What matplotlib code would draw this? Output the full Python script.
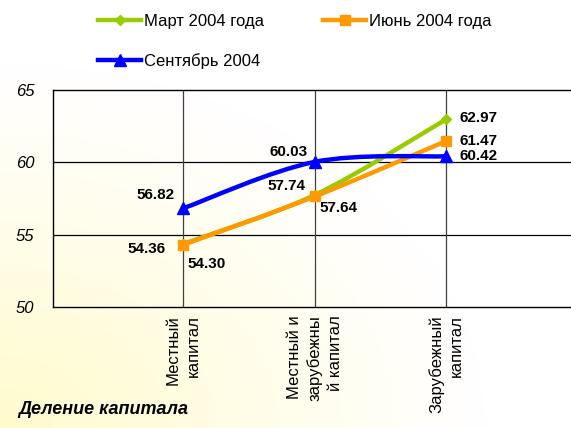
import numpy as np
import matplotlib
matplotlib.use("Agg")
import matplotlib.pyplot as plt
from matplotlib.path import Path
from matplotlib.patches import PathPatch
from matplotlib.lines import Line2D

plt.rcParams['font.family'] = ['Liberation Sans', 'DejaVu Sans']

categories = ["Местный\nкапитал", "Местный и\nзарубежны\nй капитал", "Зарубежный\nкапитал"]
mar_2004 = [54.36, 57.74, 62.97]
jun_2004 = [54.30, 57.64, 61.47]
sep_2004 = [56.82, 60.03, 60.42]
series_names = ["Март 2004 года", "Июнь 2004 года", "Сентябрь 2004"]
y_ticks = [50, 55, 60, 65]
x_title = "Деление капитала"

colors = ["#99CC00", "#FF9900", "#0000FF"]
markers = ["D", "s", "^"]
msizes = [5, 6.5, 9]

W, H = 571, 428
fig = plt.figure(figsize=(W / 100, H / 100), dpi=100)

# background gradient (radial from bottom-left corner)
bg = fig.add_axes([0, 0, 1, 1], zorder=-10)
gx, gy = np.meshgrid(np.linspace(0, 1, 300), np.linspace(0, 1, 300))
d = np.sqrt(gx ** 2 + (1 - gy) ** 2)
t = np.clip(1 - d / 0.85, 0, 1) ** 1.1
c0 = np.array([1.0, 1.0, 1.0])
c1 = np.array([1.0, 0.985, 0.80])
img = c0[None, None, :] * (1 - t[..., None]) + c1[None, None, :] * t[..., None]
bg.imshow(img, extent=[0, 1, 0, 1], aspect='auto', origin='upper')
bg.axis('off')

ax = fig.add_axes([53 / W, 1 - 307 / H, (571 - 53) / W, (307 - 90) / H])
ax.patch.set_alpha(0)
x = np.arange(len(categories))
ax.set_xlim(-0.99, 2.95)
ax.set_ylim(50, 65)


def smooth_path(xs, ys):
    pts = np.column_stack([xs, ys]).astype(float)
    n = len(pts)
    verts = [pts[0]]
    codes = [Path.MOVETO]
    for i in range(n - 1):
        p_prev = pts[i - 1] if i > 0 else pts[i]
        p_next2 = pts[i + 2] if i + 2 < n else pts[i + 1]
        c1 = pts[i] + (pts[i + 1] - p_prev) / 6
        c2 = pts[i + 1] - (p_next2 - pts[i]) / 6
        verts += [c1, c2, pts[i + 1]]
        codes += [Path.CURVE4] * 3
    return Path(verts, codes)


all_series = [mar_2004, jun_2004, sep_2004]
for k, (vals, col, mk, ms) in enumerate(zip(all_series, colors, markers, msizes)):
    patch = PathPatch(smooth_path(x, vals), facecolor='none', edgecolor=col,
                      lw=3.2, zorder=3 + k, capstyle='round', joinstyle='round')
    ax.add_patch(patch)
    ax.plot(x, vals, linestyle='none', marker=mk, color=col, ms=ms, zorder=3.5 + k)

# grid
for yv in [55, 60]:
    ax.axhline(yv, color='black', lw=0.9, zorder=1)
for xv in x:
    ax.axvline(xv, color='#404040', lw=0.9, zorder=1)

ax.set_yticks(y_ticks)
ax.set_yticklabels([str(v) for v in y_ticks], fontsize=12, fontstyle='italic')
ax.tick_params(axis='y', length=0, pad=13.5)
ax.set_xticks(x)
ax.set_xticklabels(categories, rotation=90, fontsize=12, va='top', ha='center',
                   multialignment='right', linespacing=1.4)
ax.tick_params(axis='x', length=0, pad=6)
for s in ['top', 'left', 'bottom']:
    ax.spines[s].set_color('black')
    ax.spines[s].set_linewidth(1.0)
ax.spines['right'].set_visible(False)

# data labels: offsets in pixels, keyed by (category, series)
label_offsets = {
    (0, 0): (-18, -5, 'right'), (0, 1): (4, -19, 'left'), (0, 2): (-9, 13, 'right'),
    (1, 0): (-9, 9, 'right'), (1, 1): (5, -12, 'left'), (1, 2): (-7, 10, 'right'),
    (2, 0): (13, 1, 'left'), (2, 1): (13, 0, 'left'), (2, 2): (13, 0, 'left'),
}
for j in range(3):
    for i, vals in enumerate(all_series):
        dx, dy, ha = label_offsets[(j, i)]
        ax.annotate(f"{vals[j]:.2f}", (x[j], vals[j]), xytext=(dx, dy),
                    textcoords='offset pixels', ha=ha, va='center',
                    fontsize=11, fontweight='bold', zorder=10)

fig.text(18 / W, 1 - 410 / H, x_title, fontsize=13, fontweight='bold',
         fontstyle='italic', ha='left', va='center')

handles = [Line2D([], [], color=c, lw=3.2, marker=m, ms=s)
           for c, m, s in zip(colors, markers, msizes)]
order = [0, 2, 1]
fig.legend([handles[i] for i in order], [series_names[i] for i in order],
           ncol=2, loc='upper left', bbox_to_anchor=(98 / W, 1 - 14 / H),
           frameon=False, fontsize=12, handlelength=2.6, handletextpad=0.15,
           columnspacing=3.55, labelspacing=1.45, borderpad=0, borderaxespad=0)

fig.savefig("out.png", dpi=100)
